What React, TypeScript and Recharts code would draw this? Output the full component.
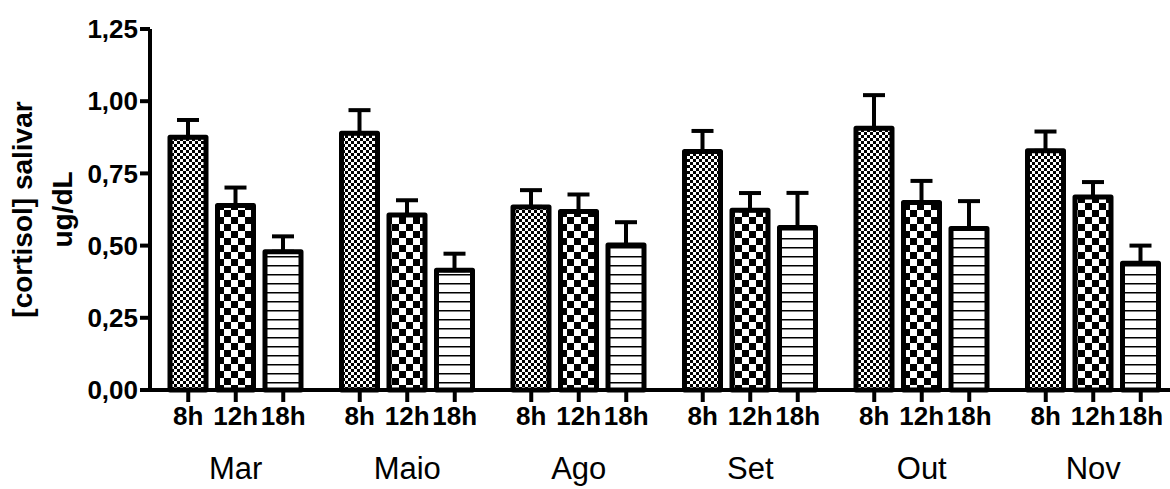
import { BarChart, Bar, XAxis, YAxis, ErrorBar } from 'recharts';

const MONTHS = ['Mar', 'Maio', 'Ago', 'Set', 'Out', 'Nov'];
const HOURS = ['8h', '12h', '18h'];

// mean salivary cortisol (ug/dL) and SEM per collection time
const MEAN_8H = [0.875, 0.889, 0.634, 0.826, 0.906, 0.828];
const SEM_8H = [0.06, 0.08, 0.058, 0.071, 0.115, 0.067];
const MEAN_12H = [0.639, 0.606, 0.618, 0.622, 0.649, 0.668];
const SEM_12H = [0.062, 0.051, 0.059, 0.06, 0.075, 0.052];
const MEAN_18H = [0.479, 0.415, 0.502, 0.5625, 0.559, 0.439];
const SEM_18H = [0.053, 0.057, 0.079, 0.12, 0.095, 0.061];

const Y_TICKS = [0, 0.25, 0.5, 0.75, 1, 1.25];

const FONT = '"Liberation Sans", Arial, Helvetica, sans-serif';
const BAR_SIZE = 36;
const BAR_GAP = 11.5;
const BAR_STEP = BAR_SIZE + BAR_GAP;

// error bars only go upwards: [below, above]
const data = MONTHS.map((month, i) => ({
  month,
  h8: MEAN_8H[i],
  h8err: [0, SEM_8H[i]],
  h12: MEAN_12H[i],
  h12err: [0, SEM_12H[i]],
  h18: MEAN_18H[i],
  h18err: [0, SEM_18H[i]],
}));

const formatTick = (v: number) => v.toFixed(2).replace('.', ',');

// one tick per bar (8h/12h/18h) plus the month name under the group
const GroupTick = ({ x, y, payload }: any) => (
  <g>
    {HOURS.map((h, i) => {
      const cx = x + (i - 1) * BAR_STEP;
      return (
        <g key={h}>
          <line x1={cx} x2={cx} y1={y} y2={y + 12} stroke="#000" strokeWidth={4} />
          <text x={cx} y={y + 35} textAnchor="middle" fontFamily={FONT} fontWeight="bold" fontSize={26} fill="#000">
            {h}
          </text>
        </g>
      );
    })}
    <text x={x} y={y + 89} textAnchor="middle" fontFamily={FONT} fontSize={31} fill="#000">
      {payload.value}
    </text>
  </g>
);

const YTitle = ({ viewBox }: any) => {
  const cy = viewBox.y + viewBox.height / 2;
  return (
    <g fontFamily={FONT} fontWeight="bold" fontSize={28} fill="#000">
      <text x={22} y={cy} transform={`rotate(-90 22 ${cy})`} textAnchor="middle" dominantBaseline="central">
        [cortisol] salivar
      </text>
      <text x={62} y={cy} transform={`rotate(-90 62 ${cy})`} textAnchor="middle" dominantBaseline="central">
        ug/dL
      </text>
    </g>
  );
};

export default function App() {
  return (
    <div style={{ width: 1170, height: 489, overflow: 'hidden', background: '#fff' }}>
      <style>{'body{margin:0}'}</style>
      <BarChart
        width={1200}
        height={489}
        data={data}
        margin={{ top: 29, right: 21, bottom: 0, left: 0 }}
        barSize={BAR_SIZE}
        barGap={BAR_GAP}
      >
        <defs>
          <pattern id="fineCheck" width={6} height={6} patternUnits="userSpaceOnUse">
            <rect width={6} height={6} fill="#fff" />
            <rect width={3} height={3} fill="#000" />
            <rect x={3} y={3} width={3} height={3} fill="#000" />
          </pattern>
          <pattern id="coarseCheck" width={14} height={14} patternUnits="userSpaceOnUse">
            <rect width={14} height={14} fill="#fff" />
            <rect width={7} height={7} fill="#000" />
            <rect x={7} y={7} width={7} height={7} fill="#000" />
          </pattern>
          <pattern id="stripes" width={9} height={9} patternUnits="userSpaceOnUse">
            <rect width={9} height={9} fill="#fff" />
            <rect y={4} width={9} height={1.5} fill="#000" />
          </pattern>
        </defs>
        <XAxis
          dataKey="month"
          interval={0}
          height={99}
          tick={GroupTick}
          tickLine={false}
          tickSize={0}
          tickMargin={0}
          axisLine={{ stroke: '#000', strokeWidth: 4 }}
        />
        <YAxis
          width={150}
          domain={[0, 1.25]}
          ticks={Y_TICKS}
          interval={0}
          tickFormatter={formatTick}
          tickSize={10}
          tickMargin={2}
          axisLine={{ stroke: '#000', strokeWidth: 4 }}
          tickLine={{ stroke: '#000', strokeWidth: 4 }}
          tick={{ fill: '#000', fontSize: 26, fontWeight: 'bold', fontFamily: FONT }}
          label={<YTitle />}
        />
        <Bar dataKey="h8" fill="url(#fineCheck)" stroke="#000" strokeWidth={5} strokeLinejoin="round" isAnimationActive={false}>
          <ErrorBar dataKey="h8err" width={11} stroke="#000" strokeWidth={4} />
        </Bar>
        <Bar dataKey="h12" fill="url(#coarseCheck)" stroke="#000" strokeWidth={5} strokeLinejoin="round" isAnimationActive={false}>
          <ErrorBar dataKey="h12err" width={11} stroke="#000" strokeWidth={4} />
        </Bar>
        <Bar dataKey="h18" fill="url(#stripes)" stroke="#000" strokeWidth={5} strokeLinejoin="round" isAnimationActive={false}>
          <ErrorBar dataKey="h18err" width={11} stroke="#000" strokeWidth={4} />
        </Bar>
      </BarChart>
    </div>
  );
}
